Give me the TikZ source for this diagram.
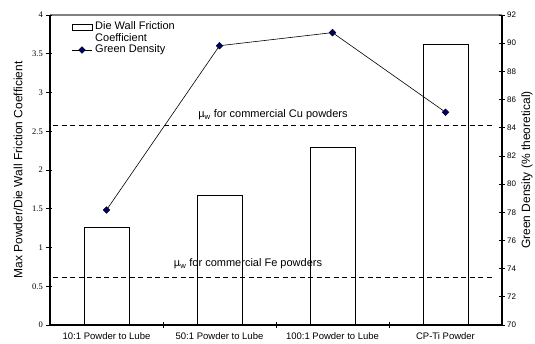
\documentclass[tikz,border=0pt]{standalone}
\usepackage{fontspec}
\setmainfont{Liberation Sans}
\newfontfamily\serifnum{Liberation Serif}
\usetikzlibrary{shapes.geometric}
\definecolor{markblue}{RGB}{0,0,110}

\begin{document}
\begin{tikzpicture}[x=1pt,y=1pt,
    bar/.style={draw,line width=0.8pt,inner sep=0pt,anchor=south,minimum width=45pt},
    gd/.style={diamond,draw,fill=markblue,inner sep=0pt,minimum size=7pt,line width=0.4pt},
    refline/.style={dash pattern=on 5pt off 3.5pt,line width=0.9pt},
    lbl/.style={font=\fontsize{11}{12}\selectfont,inner sep=0pt}]
    \useasboundingbox (-50,-18) rectangle (485,325);

    % reference lines
    \coordinate (cu-a) at (3,200);
    \coordinate (cu-b) at (443,200);
    \coordinate (fe-a) at (3,48);
    \coordinate (fe-b) at (443,48);
    \draw[refline] (cu-a) -- (cu-b);
    \draw[refline] (fe-a) -- (fe-b);
    \node[lbl] (cu-lbl) at (223,210) {µ\textsubscript{w} for commercial Cu powders};
    \node[lbl] (fe-lbl) at (198,61) {µ\textsubscript{w} for commercial Fe powders};

    % bars: die wall friction coefficient (left axis, 1 unit = 77.5)
    \foreach \i/\v in {1/1.25,2/1.665,3/2.29,4/3.615}
      \node[bar,minimum height={\v*77.5pt}] (bar\i) at ({113*\i-56.5},0) {};

    % green density (right axis, 70..92)
    \foreach \i/\v in {1/78.16,2/89.82,3/90.75,4/85.1}
      \node[gd] (gd\i) at ({113*\i-56.5},{(\v-70)*310/22}) {};
    \draw[line width=0.6pt] (gd1) -- (gd2) -- (gd3) -- (gd4);

    % axes
    \draw[gray,line width=1.3pt] (0,310) -- (452,310);
    \draw[line width=1.1pt] (0,310) -- (0,0);
    \draw[line width=1.1pt] (452,0) -- (452,310);
    \draw[line width=1.8pt] (0,0) -- (452,0);
    \foreach \v in {0,0.5,1,1.5,2,2.5,3,3.5,4} {
      \draw[line width=0.7pt] (-4,{\v*77.5}) -- (2,{\v*77.5});
      \node[anchor=east,inner sep=0pt,font=\serifnum\fontsize{8.5}{9}\selectfont] at (-7,{\v*77.5}) {\v};
    }
    \foreach \v in {70,72,...,92} {
      \draw[line width=0.7pt] (449,{(\v-70)*310/22}) -- (455,{(\v-70)*310/22});
      \node[anchor=west,inner sep=0pt,font=\fontsize{8}{9}\selectfont] at (457,{(\v-70)*310/22}) {\v};
    }
    \foreach \x in {113,226,339}
      \draw[line width=0.7pt] (\x,-3) -- (\x,3);
    \foreach \i/\t in {1/10:1 Powder to Lube,2/50:1 Powder to Lube,3/100:1 Powder to Lube,4/CP-Ti Powder}
      \node[font=\fontsize{9.5}{10}\selectfont,inner sep=0pt] (cat\i) at ({113*\i-56.5},-11) {\t};

    % axis titles
    \node[font=\fontsize{12}{13}\selectfont,rotate=90,inner sep=0pt] (ylabel) at (-32,155) {Max Powder/Die Wall Friction Coefficient};
    \node[font=\fontsize{12}{13}\selectfont,rotate=90,inner sep=0pt] (y2label) at (477,155) {Green Density (\% theoretical)};

    % legend
    \node[draw,line width=0.6pt,minimum width=20pt,minimum height=6pt,inner sep=0pt] (leg-bar) at (32,298) {};
    \coordinate (leg-a) at (22,275);
    \coordinate (leg-b) at (42,275);
    \draw[line width=0.6pt] (leg-a) -- (leg-b);
    \node[gd] (leg-gd) at (32,275) {};
    \node[lbl,anchor=north west,align=left] (leg-txt1) at (45,304) {Die Wall Friction\\Coefficient};
    \node[lbl,anchor=west] (leg-txt2) at (45,275) {Green Density};
\end{tikzpicture}
\end{document}
